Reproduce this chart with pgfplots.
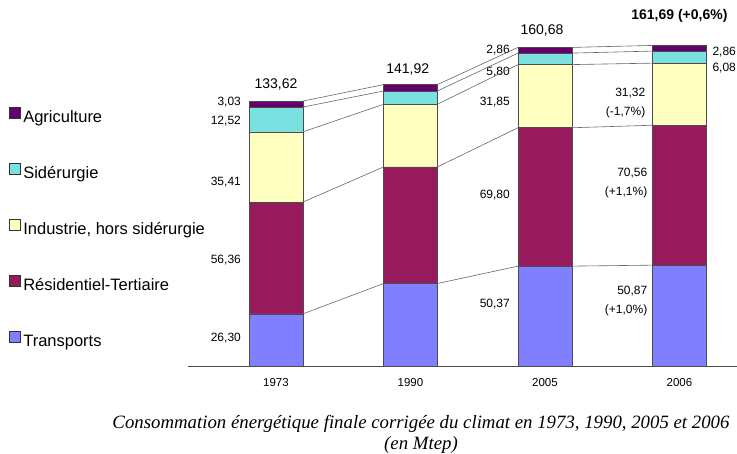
\documentclass[border=0pt]{standalone}
\usepackage{pgfplots}
\pgfplotsset{compat=1.18}
\usepackage{fontspec}
\setmainfont{Liberation Sans}
\newfontfamily\capfont{Liberation Serif}
\definecolor{cAgr}{RGB}{102,0,110}
\definecolor{cSid}{RGB}{122,224,224}
\definecolor{cInd}{RGB}{255,255,192}
\definecolor{cRes}{RGB}{150,26,92}
\definecolor{cTra}{RGB}{128,128,255}
\tikzset{
  lab/.style={font=\fontsize{12}{14}\selectfont, inner sep=0pt},
  lab2/.style={font=\fontsize{12}{19}\selectfont, inner sep=0pt, align=right},
  tot/.style={font=\fontsize{14}{16}\selectfont, inner sep=0pt},
}
\pgfplotsset{
  conn/.style={draw=black!60, line width=0.6pt, no marks, forget plot, unbounded coords=jump, sharp plot, stack plots=false},
}
\begin{document}
\begin{tikzpicture}
\begin{axis}[
  at={(0,0)}, anchor=south west,
  width=549pt, height=366pt, scale only axis,
  xmin=-0.654, xmax=3.428, ymin=0, ymax=184.6,
  ybar stacked, bar width=0.4,
  axis x line=bottom, axis y line=none,
  axis line style={draw=black!70, line width=0.8pt, -},
  xtick={0,1,2,3}, xticklabels={1973,1990,2005,2006},
  major tick length=0pt, ytick=\empty,
  xticklabel style={font=\fontsize{11.5}{13}\selectfont, inner sep=0pt, anchor=north, yshift=-12pt},
  clip=false,
  every axis plot/.append style={draw=black!70, line width=0.6pt},
  reverse legend,
  legend cell align=left,
  legend style={at={(rel axis cs:-0.326,0.708)}, anchor=north west, draw=none, fill=none,
    inner sep=0pt, row sep=37.5pt, column sep=3pt,
    font=\fontsize{16.5}{19}\selectfont,
    nodes={inner sep=0pt, text height=12pt, text depth=3.5pt}},
  legend image code/.code={\draw[#1, draw=black!80, line width=0.6pt] (0pt,0pt) rectangle (10.5pt,10.5pt);},
]
% connector lines (drawn first, behind bars)
\addplot[conn] coordinates {(0.2,26.30) (0.8,41.60) (1,nan) (1.2,41.60) (1.8,50.37) (2,nan) (2.2,50.37) (2.8,50.87)};
\addplot[conn] coordinates {(0.2,82.66) (0.8,100.40) (1,nan) (1.2,100.40) (1.8,120.17) (2,nan) (2.2,120.17) (2.8,121.43)};
\addplot[conn] coordinates {(0.2,118.07) (0.8,132.00) (1,nan) (1.2,132.00) (1.8,152.02) (2,nan) (2.2,152.02) (2.8,152.75)};
\addplot[conn] coordinates {(0.2,130.59) (0.8,138.70) (1,nan) (1.2,138.70) (1.8,157.82) (2,nan) (2.2,157.82) (2.8,158.83)};
\addplot[conn] coordinates {(0.2,133.62) (0.8,141.92) (1,nan) (1.2,141.92) (1.8,160.68) (2,nan) (2.2,160.68) (2.8,161.69)};
% stacked bars
\addplot[fill=cTra] coordinates {(0,26.30) (1,41.60) (2,50.37) (3,50.87)};
\addlegendentry{Transports}
\addplot[fill=cRes] coordinates {(0,56.36) (1,58.80) (2,69.80) (3,70.56)};
\addlegendentry{Résidentiel-Tertiaire}
\addplot[fill=cInd] coordinates {(0,35.41) (1,31.60) (2,31.85) (3,31.32)};
\addlegendentry{Industrie, hors sidérurgie}
\addplot[fill=cSid] coordinates {(0,12.52) (1,6.70) (2,5.80) (3,6.08)};
\addlegendentry{Sidérurgie}
\addplot[fill=cAgr] coordinates {(0,3.03) (1,3.22) (2,2.86) (3,2.86)};
\addlegendentry{Agriculture}
% value labels
\node[lab, anchor=east, xshift=-8pt] at (axis cs:-0.2,133.1) {3,03};
\node[lab, anchor=east, xshift=-8pt] at (axis cs:-0.2,123.5) {12,52};
\node[lab, anchor=east, xshift=-8pt] at (axis cs:-0.2,92.8) {35,41};
\node[lab, anchor=east, xshift=-8pt] at (axis cs:-0.2,53.5) {56,36};
\node[lab, anchor=east, xshift=-8pt] at (axis cs:-0.2,14.1) {26,30};
\node[lab, anchor=east, xshift=-8pt] at (axis cs:1.8,159.4) {2,86};
\node[lab, anchor=east, xshift=-8pt] at (axis cs:1.8,148.3) {5,80};
\node[lab, anchor=east, xshift=-8pt] at (axis cs:1.8,133.1) {31,85};
\node[lab, anchor=east, xshift=-8pt] at (axis cs:1.8,86.2) {69,80};
\node[lab, anchor=east, xshift=-8pt] at (axis cs:1.8,31.3) {50,37};
\node[lab, anchor=west, xshift=6pt] at (axis cs:3.2,158.3) {2,86};
\node[lab, anchor=west, xshift=6pt] at (axis cs:3.2,150.3) {6,08};
\node[lab2, anchor=east, xshift=-7pt] at (axis cs:2.8,132.6) {31,32\\(-1,7\%)};
\node[lab2, anchor=east, xshift=-5pt] at (axis cs:2.8,92.3) {70,56\\(+1,1\%)};
\node[lab2, anchor=east, xshift=-5pt] at (axis cs:2.8,33.0) {50,87\\(+1,0\%)};
% totals
\node[tot] at (axis cs:0,142.2) {133,62};
\node[tot] at (axis cs:0.98,149.3) {141,92};
\node[tot] at (axis cs:1.978,169.4) {160,68};
\node[tot, font=\fontsize{14}{16}\selectfont\bfseries] at (axis cs:3,176.5) {161,69 (+0,6\%)};
% caption
\node[font=\capfont\itshape\fontsize{18.8}{21}\selectfont, align=center, inner sep=0pt] at (rel axis cs:0.4244,0) [yshift=-68.5pt] {Consommation énergétique finale corrigée du climat en 1973, 1990, 2005 et 2006\\(en Mtep)};
\end{axis}
\pgfresetboundingbox
\useasboundingbox (-188pt,-87pt) rectangle (549pt,366pt);
\end{tikzpicture}
\end{document}
